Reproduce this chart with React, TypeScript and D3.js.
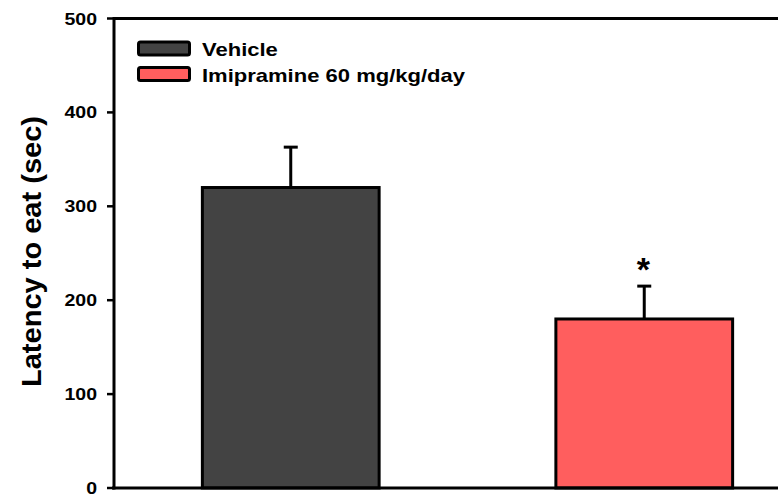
import React from "react";
import * as d3 from "d3";

const categories = ["Vehicle", "Imipramine 60 mg/kg/day"];
const means = [320, 180];
const errors = [43, 35];
const significance = ["", "*"];
const barColors = ["#434343", "#FF5E5E"];
const yTicks = [0, 100, 200, 300, 400, 500];
const yLabel = "Latency to eat (sec)";

const W = 778;
const H = 495;
const FONT = "'Liberation Sans', Arial, sans-serif";

export default function App() {
  const left = 114;
  const top = 18.5;
  const bottom = 488;
  const right = 821;

  const y = d3.scaleLinear().domain([0, 500]).range([bottom, top]);
  const x = d3
    .scaleBand<string>()
    .domain(categories)
    .range([left, right])
    .paddingInner(0.5)
    .paddingOuter(0.25);

  return (
    <svg
      width={W}
      height={H}
      style={{ position: "absolute", left: 0, top: 0, background: "#fff" }}
      fontFamily={FONT}
      fontWeight="bold"
    >
      {/* bars */}
      {categories.map((c, i) => {
        const bx = x(c)!;
        const bw = x.bandwidth();
        const cx = bx + bw / 2;
        const yTop = y(means[i]);
        const yErr = y(means[i] + errors[i]);
        return (
          <g key={c}>
            <line x1={cx} x2={cx} y1={yTop} y2={yErr} stroke="#000" strokeWidth={3} />
            <line x1={cx - 7} x2={cx + 7} y1={yErr} y2={yErr} stroke="#000" strokeWidth={3} />
            <rect
              x={bx}
              y={yTop}
              width={bw}
              height={bottom - yTop}
              fill={barColors[i]}
              stroke="#000"
              strokeWidth={3}
            />
            {significance[i] && (
              <text
                x={cx - 1}
                y={yErr - 5}
                textAnchor="middle"
                fontSize={34}
                fill="#000"
              >
                {significance[i]}
              </text>
            )}
          </g>
        );
      })}

      {/* frame / axes */}
      <line x1={left} x2={W + 10} y1={top} y2={top} stroke="#000" strokeWidth={3} />
      <line x1={left - 2} x2={W + 10} y1={bottom} y2={bottom} stroke="#000" strokeWidth={3} />
      <line x1={left} x2={left} y1={top - 1.5} y2={bottom + 1.5} stroke="#000" strokeWidth={3} />

      {/* y ticks */}
      {yTicks.map((t) => (
        <g key={t}>
          <line x1={left - 7} x2={left} y1={y(t)} y2={y(t)} stroke="#000" strokeWidth={2.5} />
          <g transform={`translate(97, ${y(t) + 6}) scale(1.22, 1)`}>
            <text textAnchor="end" fontSize={16} fill="#000">
              {t}
            </text>
          </g>
        </g>
      ))}

      {/* y label */}
      <text
        transform={`translate(41, ${(116 + 387) / 2}) rotate(-90)`}
        textAnchor="middle"
        fontSize={27}
        textLength={271}
        lengthAdjust="spacingAndGlyphs"
        fill="#000"
      >
        {yLabel}
      </text>

      {/* legend */}
      {categories.map((c, i) => (
        <g key={c} transform={`translate(0, ${i * 25.5})`}>
          <rect
            x={138.5}
            y={42}
            width={51}
            height={13}
            rx={2}
            fill={barColors[i]}
            stroke="#000"
            strokeWidth={3}
          />
          <g transform={`translate(202, 56.3) scale(1.19, 1)`}>
            <text fontSize={18.5} fill="#000">
              {c}
            </text>
          </g>
        </g>
      ))}
    </svg>
  );
}
